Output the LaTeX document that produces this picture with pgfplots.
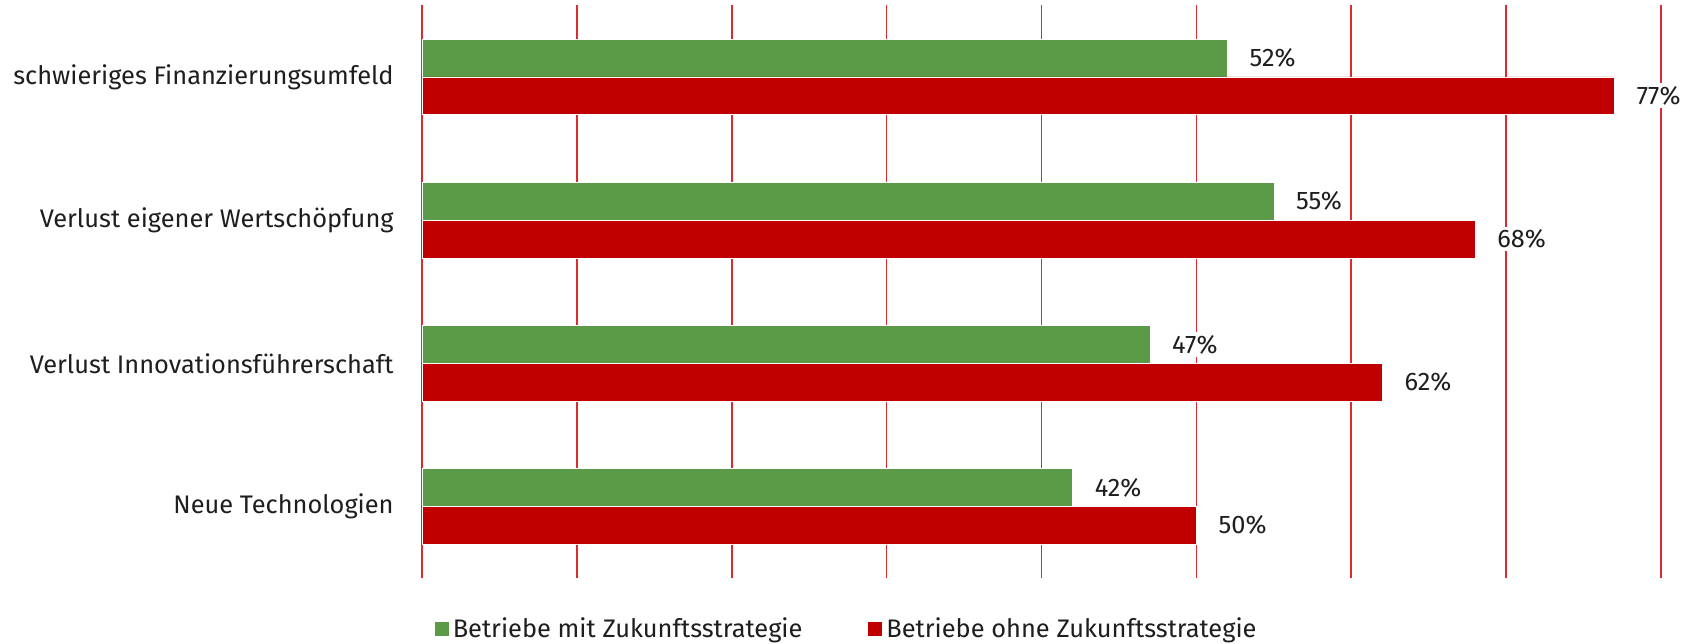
\documentclass[border=0pt]{standalone}
\usepackage{pgfplots}
\pgfplotsset{compat=1.18}
\usepackage{fontspec}
\setmainfont{Fira Sans}
\definecolor{bargreen}{HTML}{5B9A46}
\definecolor{barred}{HTML}{C00000}
\definecolor{gridred}{HTML}{DC2A2E}
\definecolor{txt}{HTML}{1E1E1E}
\begin{document}
\begin{tikzpicture}
\begin{axis}[
  name=ax,
  scale only axis,
  width=619.5pt, height=286.3pt,
  xmin=0, xmax=80, ymin=-0.5, ymax=3.5,
  xtick={0,10,...,80}, xticklabels={},
  ytick={0,1,2,3},
  yticklabels={Neue Technologien, Verlust Innovationsführerschaft, Verlust eigener Wertschöpfung, schwieriges Finanzierungsumfeld},
  major tick length=0pt,
  axis line style={draw=none},
  xmajorgrids,
  major grid style={gridred, line width=0.8pt},
  yticklabel style={font=\fontsize{12.7}{14}\selectfont, text=txt, inner sep=0pt, xshift=-14pt},
  /pgf/number format/assume math mode=true,
  xbar, bar width=18.9pt,
  clip=false,
  nodes near coords={\pgfmathprintnumber{\pgfplotspointmeta}\%},
  nodes near coords align={horizontal},
  every node near coord/.append style={font=\fontsize{12.7}{14}\selectfont, text=txt, fill=white, inner sep=1.5pt, anchor=west, xshift=9.5pt},
  legend style={at={(0.01,-0.089)}, anchor=west, draw=none, font=\fontsize{12.7}{14}\selectfont, text=txt, inner sep=0pt,
    /tikz/every even column/.append style={column sep=31pt}},
  legend columns=2,
  legend image code/.code={\fill[#1, draw=none] (0pt,-3.5pt) rectangle (7pt,3.5pt);},
]
\addplot[fill=bargreen, draw=white, line width=0.3pt, bar shift=9.45pt] coordinates {(42,0) (47,1) (55,2) (52,3)};
\addplot[fill=barred, draw=white, line width=0.3pt, bar shift=-9.45pt] coordinates {(50,0) (62,1) (68,2) (77,3)};
\legend{Betriebe mit Zukunftsstrategie, Betriebe ohne Zukunftsstrategie}
\end{axis}
\pgfresetboundingbox
\path[use as bounding box] ([xshift=-211pt,yshift=-32.5pt]ax.south west) rectangle ([xshift=16.5pt,yshift=2.7pt]ax.north east);
\end{tikzpicture}
\end{document}
